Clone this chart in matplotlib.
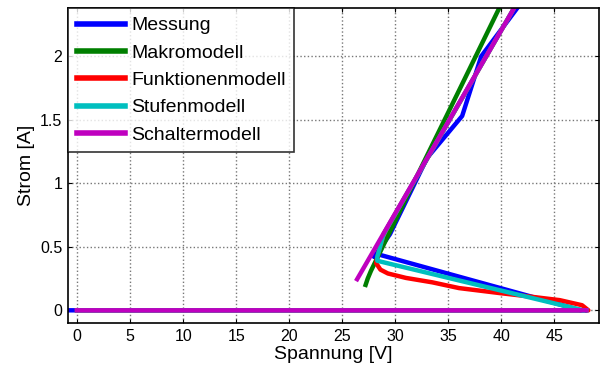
import numpy as np
import matplotlib
matplotlib.use('Agg')
import matplotlib.pyplot as plt

plt.rcParams['font.family'] = ['Liberation Sans', 'DejaVu Sans']

nan = np.nan

# Messung: zero branch, falling branch, rising branch
mess_u = [-0.8, 48.0, 47.5, 28.4, 28.0, 29.5, 33.0, 34.9, 36.3, 38.1, 41.5]
mess_i = [0.0, 0.0, 0.0, 0.44, 0.42, 0.60, 1.20, 1.39, 1.53, 2.00, 2.38]

makro_u = [27.2, 27.4, 27.7, 28.4, 32.0, 36.0, 39.8]
makro_i = [0.20, 0.25, 0.31, 0.43, 1.05, 1.73, 2.38]

funk_u = [0.0, 48.2, 47.6, 45.5, 42.0, 39.8, 36.0, 33.5, 31.0, 29.3, 28.6, 28.2, 28.3, 28.9, 41.2]
funk_i = [0.0, 0.0, 0.04, 0.08, 0.115, 0.136, 0.175, 0.22, 0.255, 0.29, 0.32, 0.37, 0.42, 0.60, 2.38]

stufe_u = [0.0, 48.0, nan, 47.7, 28.3, 28.3, 28.9, 41.2]
stufe_i = [0.0, 0.0, nan, 0.0, 0.39, 0.42, 0.60, 2.38]

schalt_u = [0.0, 48.0, nan, 26.4, 41.2]
schalt_i = [0.0, 0.0, nan, 0.245, 2.38]

fig = plt.figure(figsize=(6.03, 3.77), dpi=100)
ax = fig.add_axes([0.1128, 0.1432, 0.8806, 0.8356])

lw = 3.2
ax.plot(mess_u, mess_i, color='#0000ff', lw=lw, label='Messung', solid_joinstyle='round')
ax.plot(makro_u, makro_i, color='#007f00', lw=lw, label='Makromodell', solid_joinstyle='round')
ax.plot(funk_u, funk_i, color='#ff0000', lw=lw, label='Funktionenmodell', solid_joinstyle='round')
ax.plot(stufe_u, stufe_i, color='#00bfbf', lw=lw, label='Stufenmodell', solid_joinstyle='round')
ax.plot(schalt_u, schalt_i, color='#bf00bf', lw=lw, label='Schaltermodell', solid_joinstyle='round')

ax.set_xlim(-0.85, 49.2)
ax.set_ylim(-0.1, 2.38)
ax.set_xticks(np.arange(0, 46, 5))
ax.set_yticks([0, 0.5, 1, 1.5, 2])
ax.set_yticklabels(['0', '0.5', '1', '1.5', '2'])
ax.tick_params(direction='in', top=True, right=True, length=3, labelsize=11.5, pad=4)
ax.grid(True, color='#777777', linestyle=':', lw=1.0)
for s in ax.spines.values():
    s.set_linewidth(1.2)

ax.set_xlabel('Spannung [V]', fontsize=14, labelpad=2)
ax.set_ylabel('Strom [A]', fontsize=14, labelpad=4)

leg = ax.legend(loc='upper left', fontsize=14, frameon=True, fancybox=False,
                edgecolor='black', borderaxespad=0, handlelength=2.5,
                handletextpad=0.3, labelspacing=0.5, borderpad=0.45)
leg.get_frame().set_linewidth(1.2)
for line in leg.get_lines():
    line.set_linewidth(4)

fig.savefig('out.png', dpi=100)
